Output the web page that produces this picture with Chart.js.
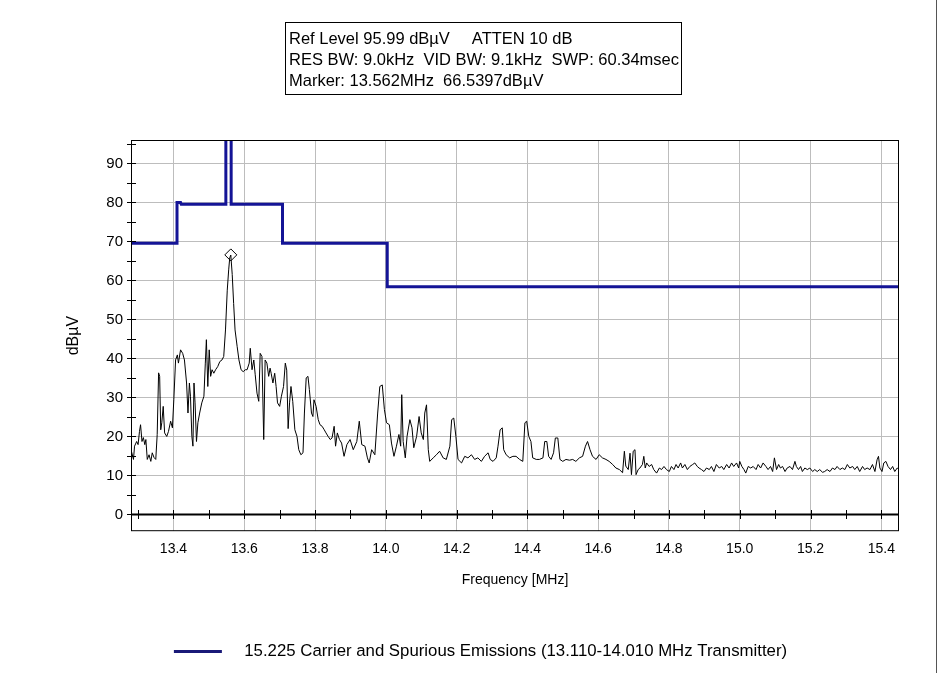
<!DOCTYPE html>
<html>
<head>
<meta charset="utf-8">
<script src="https://cdn.jsdelivr.net/npm/chart.js@4.4.1/dist/chart.umd.min.js"></script>
<style>
  html, body { margin: 0; padding: 0; background: #fff; }
  #wrap { position: relative; width: 945px; height: 673px; }
  #info { position: absolute; left: 285px; top: 22px; width: 392px; height: 66px; padding: 5px 0 0 3px;
          border: 1px solid #000; font: 16.5px 'Liberation Sans', Arial, sans-serif; line-height: 21px;
          white-space: pre; color: #000; }
  #edge { position: absolute; left: 936px; top: 0; width: 1px; height: 673px; background: #555; }
</style>
</head>
<body>
<div id="wrap">
  <canvas id="myChart" width="945" height="673"></canvas>
  <div id="info">Ref Level 95.99 dBµV     ATTEN 10 dB
RES BW: 9.0kHz  VID BW: 9.1kHz  SWP: 60.34msec
Marker: 13.562MHz  66.5397dBµV</div>
  <div id="edge"></div>
</div>
<script>
const limitLabel = '15.225 Carrier and Spurious Emissions (13.110-14.010 MHz Transmitter)';
const limitFreq  = [13.28, 13.41, 13.41, 13.42, 13.422, 13.548, 13.548, 13.563, 13.563, 13.708, 13.708, 14.004, 14.004, 15.45];
const limitLevel = [69.5, 69.5, 80.0, 80.0, 79.5, 79.5, 124.0, 124.0, 79.5, 79.5, 69.5, 69.5, 58.4, 58.4];

const markerFreq  = [13.562];
const markerLevel = [66.54];

const traceFreq = [
  13.280, 13.287, 13.290, 13.296, 13.300, 13.304, 13.307, 13.311, 13.315, 13.319,
  13.322, 13.326, 13.331, 13.336, 13.340, 13.345, 13.350, 13.354, 13.358, 13.361,
  13.364, 13.367, 13.371, 13.375, 13.381, 13.386, 13.392, 13.397, 13.401, 13.406,
  13.411, 13.414, 13.420, 13.426, 13.431, 13.437, 13.441, 13.445, 13.448, 13.452,
  13.455, 13.458, 13.461, 13.465, 13.469, 13.474, 13.480, 13.486, 13.490, 13.493,
  13.497, 13.501, 13.505, 13.509, 13.514, 13.519, 13.525, 13.531, 13.537, 13.542,
  13.547, 13.552, 13.556, 13.559, 13.562, 13.566, 13.570, 13.574, 13.580, 13.585,
  13.591, 13.597, 13.603, 13.608, 13.614, 13.617, 13.622, 13.627, 13.631, 13.636,
  13.641, 13.645, 13.650, 13.655, 13.659, 13.664, 13.669, 13.673, 13.676, 13.681,
  13.686, 13.690, 13.694, 13.700, 13.705, 13.711, 13.716, 13.720, 13.724, 13.728,
  13.732, 13.737, 13.743, 13.749, 13.754, 13.760, 13.766, 13.770, 13.775, 13.780,
  13.784, 13.790, 13.794, 13.797, 13.803, 13.809, 13.814, 13.820, 13.826, 13.831,
  13.837, 13.843, 13.848, 13.854, 13.858, 13.863, 13.869, 13.875, 13.882, 13.890,
  13.899, 13.908, 13.918, 13.925, 13.932, 13.941, 13.948, 13.953, 13.960, 13.969,
  13.977, 13.983, 13.990, 13.996, 14.002, 14.010, 14.016, 14.023, 14.030, 14.037,
  14.042, 14.045, 14.049, 14.055, 14.060, 14.068, 14.074, 14.079, 14.087, 14.094,
  14.100, 14.106, 14.110, 14.115, 14.120, 14.124, 14.134, 14.143, 14.152, 14.162,
  14.171, 14.181, 14.186, 14.192, 14.198, 14.204, 14.214, 14.223, 14.232, 14.242,
  14.251, 14.260, 14.270, 14.279, 14.289, 14.295, 14.303, 14.312, 14.317, 14.323,
  14.329, 14.333, 14.340, 14.350, 14.359, 14.368, 14.378, 14.387, 14.393, 14.398,
  14.404, 14.410, 14.415, 14.425, 14.434, 14.444, 14.449, 14.455, 14.460, 14.467,
  14.474, 14.479, 14.486, 14.492, 14.500, 14.509, 14.519, 14.528, 14.537, 14.547,
  14.556, 14.564, 14.570, 14.577, 14.584, 14.594, 14.603, 14.612, 14.622, 14.631,
  14.641, 14.650, 14.660, 14.669, 14.674, 14.678, 14.685, 14.690, 14.694, 14.699,
  14.704, 14.707, 14.713, 14.718, 14.725, 14.729, 14.733, 14.737, 14.744, 14.751,
  14.757, 14.765, 14.773, 14.779, 14.786, 14.793, 14.801, 14.807, 14.814, 14.820,
  14.826, 14.833, 14.838, 14.845, 14.852, 14.859, 14.867, 14.873, 14.880, 14.885,
  14.892, 14.899, 14.906, 14.914, 14.920, 14.927, 14.934, 14.942, 14.949, 14.955,
  14.963, 14.970, 14.977, 14.983, 14.991, 14.997, 15.000, 15.006, 15.012, 15.017,
  15.024, 15.031, 15.038, 15.046, 15.052, 15.059, 15.066, 15.074, 15.080, 15.087,
  15.093, 15.098, 15.104, 15.110, 15.115, 15.121, 15.128, 15.134, 15.142, 15.149,
  15.156, 15.160, 15.166, 15.172, 15.177, 15.184, 15.191, 15.198, 15.206, 15.212,
  15.219, 15.226, 15.234, 15.240, 15.247, 15.255, 15.262, 15.269, 15.275, 15.283,
  15.290, 15.297, 15.304, 15.311, 15.319, 15.325, 15.332, 15.339, 15.347, 15.353,
  15.360, 15.368, 15.375, 15.382, 15.388, 15.392, 15.396, 15.402, 15.407, 15.413,
  15.419, 15.426, 15.432, 15.438, 15.445, 15.450
];
const traceLevel = [
  16.6, 14.1, 17.5, 18.7, 17.9, 21.3, 23.0, 18.7, 19.7, 17.9,
  19.2, 14.1, 15.3, 13.6, 15.8, 14.6, 14.1, 20.5, 36.3, 35.4,
  21.7, 23.5, 27.7, 20.9, 20.0, 21.3, 23.9, 22.2, 29.4, 39.6,
  40.9, 38.8, 42.2, 41.3, 39.6, 33.7, 26.0, 33.7, 30.3, 20.0,
  17.5, 33.7, 28.6, 18.7, 23.5, 26.0, 28.6, 30.3, 38.8, 44.8,
  32.8, 42.2, 35.4, 37.1, 36.2, 37.1, 37.9, 39.2, 39.6, 40.5,
  47.3, 57.5, 62.7, 65.8, 66.5, 61.5, 54.1, 47.3, 43.0, 39.6,
  37.1, 36.6, 37.1, 37.1, 38.8, 42.6, 37.1, 39.6, 35.8, 31.1,
  29.0, 41.3, 40.5, 19.2, 39.6, 38.8, 35.4, 37.5, 36.2, 33.7,
  36.2, 32.8, 28.6, 27.7, 30.3, 32.8, 38.8, 37.0, 22.0, 28.6,
  32.8, 29.0, 21.7, 20.0, 16.6, 15.3, 15.8, 26.0, 35.0, 35.4,
  32.0, 26.0, 25.1, 29.4, 27.7, 24.3, 23.0, 22.6, 21.7, 20.9,
  20.0, 19.2, 19.6, 22.6, 17.5, 20.9, 19.2, 18.3, 14.9, 17.9,
  19.2, 16.6, 18.7, 23.9, 17.9, 17.5, 14.5, 13.2, 16.6, 15.3,
  26.0, 32.8, 33.2, 26.9, 23.5, 23.0, 18.3, 14.9, 17.5, 20.5,
  17.5, 30.7, 18.7, 14.5, 20.0, 24.3, 22.2, 17.1, 20.0, 25.1,
  20.9, 19.2, 26.0, 28.1, 16.6, 13.6, 14.5, 15.3, 16.2, 14.5,
  14.1, 17.5, 24.3, 24.7, 20.0, 14.1, 13.2, 14.9, 14.5, 15.3,
  14.1, 14.5, 13.6, 14.9, 15.8, 14.1, 13.6, 14.5, 17.5, 21.7,
  22.2, 16.6, 15.3, 14.5, 14.9, 14.9, 14.1, 13.6, 23.5, 23.9,
  20.0, 18.7, 14.5, 14.1, 14.1, 14.5, 18.7, 18.7, 14.9, 14.1,
  15.8, 19.6, 19.6, 14.1, 13.6, 14.1, 13.9, 14.1, 13.6, 14.5,
  14.9, 17.5, 18.7, 16.6, 14.9, 14.1, 15.3, 14.5, 14.1, 13.6,
  12.8, 11.9, 11.5, 10.7, 16.2, 12.4, 11.5, 15.7, 10.2, 16.2,
  16.6, 10.2, 11.5, 11.9, 12.8, 14.9, 11.9, 13.2, 12.3, 12.8,
  11.5, 10.6, 11.9, 11.5, 12.3, 11.5, 11.0, 12.3, 11.5, 12.8,
  11.9, 13.2, 11.9, 12.8, 11.5, 12.3, 12.8, 13.2, 12.3, 11.9,
  11.5, 11.0, 11.9, 11.5, 12.3, 11.0, 12.8, 11.9, 12.3, 11.5,
  12.8, 11.9, 13.2, 12.3, 13.2, 11.9, 13.6, 12.3, 11.5, 10.6,
  12.3, 11.9, 12.3, 11.5, 12.8, 11.9, 13.2, 12.3, 11.5, 12.3,
  11.0, 14.5, 11.5, 12.8, 11.9, 12.3, 11.0, 11.9, 12.3, 11.5,
  13.6, 12.3, 11.5, 12.3, 11.0, 11.9, 11.5, 11.9, 11.0, 11.5,
  11.0, 11.5, 10.8, 11.0, 11.5, 11.0, 11.9, 11.5, 12.3, 11.5,
  11.9, 11.5, 12.8, 11.9, 12.3, 11.5, 12.3, 11.0, 12.3, 11.5,
  11.9, 11.5, 12.8, 11.0, 14.0, 14.9, 11.9, 11.0, 13.2, 13.6,
  12.3, 11.5, 12.3, 11.0, 11.9, 11.5
];

const xTickValues  = [13.4, 13.6, 13.8, 14.0, 14.2, 14.4, 14.6, 14.8, 15.0, 15.2, 15.4];
const xMinorTicks  = [13.3, 13.5, 13.7, 13.9, 14.1, 14.3, 14.5, 14.7, 14.9, 15.1, 15.3];
const yTickValues  = [0, 5, 10, 15, 20, 25, 30, 35, 40, 45, 50, 55, 60, 65, 70, 75, 80, 85, 90, 95];

const LIMIT_COLOR = 'rgb(20, 20, 150)';
const GRID_COLOR = '#bdbdbd';

const toPoints = (xs, ys) => xs.map((x, i) => ({ x: x, y: ys[i] }));

// plot frame, the 0 dB line with its ticks, and ticks crossing the y axis
const axisMarks = {
  id: 'axisMarks',
  afterDraw(chart) {
    const { ctx, chartArea: a, scales: { x, y } } = chart;
    ctx.save();
    ctx.strokeStyle = '#000';
    ctx.lineWidth = 1;
    ctx.strokeRect(a.left + 0.5, a.top + 0.5, a.right - a.left - 1, a.bottom - a.top - 1);

    const y0 = Math.round(y.getPixelForValue(0));
    ctx.beginPath();
    xTickValues.concat(xMinorTicks).forEach(v => {
      const px = Math.round(x.getPixelForValue(v)) + 0.5;
      ctx.moveTo(px, y0 - 4);
      ctx.lineTo(px, y0 + 5);
    });
    yTickValues.forEach(v => {
      const py = Math.round(y.getPixelForValue(v)) + 0.5;
      ctx.moveTo(a.left - 4, py);
      ctx.lineTo(a.left + 5, py);
    });
    ctx.stroke();

    ctx.lineWidth = 2;
    ctx.beginPath();
    ctx.moveTo(a.left, y0 + 0.5);
    ctx.lineTo(a.right, y0 + 0.5);
    ctx.stroke();
    ctx.restore();
  }
};

Chart.defaults.font.family = "'Liberation Sans', Arial, sans-serif";
Chart.defaults.color = '#000';

var ctx = document.getElementById('myChart').getContext('2d');

const config = {
  type: 'line',
  data: {
    datasets: [
      {
        label: 'Marker',
        data: toPoints(markerFreq, markerLevel),
        showLine: false,
        pointStyle: 'rectRot',
        pointRadius: 6,
        borderColor: '#000',
        borderWidth: 1,
        backgroundColor: 'rgba(0,0,0,0)'
      },
      {
        label: limitLabel,
        data: toPoints(limitFreq, limitLevel),
        borderColor: LIMIT_COLOR,
        backgroundColor: LIMIT_COLOR,
        borderWidth: 3,
        pointRadius: 0,
        tension: 0,
        clip: 0
      },
      {
        label: 'Trace',
        data: toPoints(traceFreq, traceLevel),
        borderColor: '#000',
        borderWidth: 1,
        pointRadius: 0,
        tension: 0
      }
    ]
  },
  options: {
    responsive: false,
    animation: false,
    layout: { padding: { left: 62, right: 46, top: 140, bottom: 3 } },
    plugins: {
      legend: {
        position: 'bottom',
        labels: {
          // only the limit line goes in the legend; a little extra gap after the line sample
          generateLabels: chart => Chart.defaults.plugins.legend.labels.generateLabels(chart)
            .filter(item => item.datasetIndex === 1)
            .map(item => Object.assign(item, { text: '   ' + item.text, strokeStyle: 'rgb(25, 25, 120)' })),
          usePointStyle: true,
          pointStyle: 'line',
          pointStyleWidth: 48,
          padding: 10,
          font: { size: 16.8 }
        }
      },
      tooltip: { enabled: false }
    },
    scales: {
      x: {
        type: 'linear',
        min: 13.28,
        max: 15.45,
        afterBuildTicks: s => { s.ticks = xTickValues.map(v => ({ value: v })); },
        afterFit: s => { s.height = 102; },
        grid: { color: GRID_COLOR, drawTicks: false },
        border: { display: false },
        ticks: { padding: 10, autoSkip: false, maxRotation: 0, font: { size: 14 }, callback: v => v.toFixed(1) },
        title: { display: true, text: 'Frequency [MHz]', font: { size: 14 }, padding: { top: 0, bottom: 45 } }
      },
      y: {
        min: -4.3,
        max: 96,
        afterBuildTicks: s => { s.ticks = yTickValues.map(v => ({ value: v })); },
        afterFit: s => { s.width = 69; },
        grid: {
          drawTicks: false,
          color: c => (c.tick && c.tick.value % 10 === 0 && c.tick.value !== 0) ? GRID_COLOR : 'rgba(0,0,0,0)'
        },
        border: { display: false },
        ticks: { padding: 8, autoSkip: false, font: { size: 15 }, callback: v => (v % 10 === 0 ? String(v) : '') },
        title: { display: true, text: 'dBµV', font: { size: 16 }, padding: { top: 2, bottom: 0 } }
      }
    }
  },
  plugins: [axisMarks]
};

var myChart = new Chart(ctx, config);
</script>
</body>
</html>
